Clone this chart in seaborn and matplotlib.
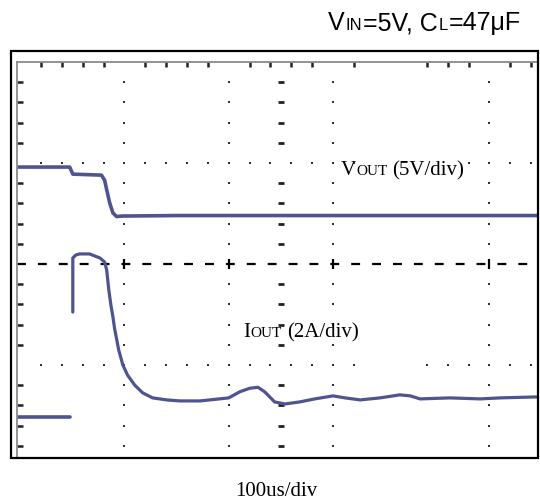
import numpy as np
import pandas as pd
import matplotlib
matplotlib.use('Agg')
import matplotlib.pyplot as plt
from matplotlib.patches import Rectangle
import seaborn as sns

# scope screen in divisions: x in us (100us/div), y in divisions
vout_t = [-507, -405, -399, -344, -338, -334, -328, -322, -315, -305, -200, 0, 493]
vout_v = [1.92, 1.92, 1.78, 1.76, 1.66, 1.47, 1.20, 1.01, 0.94, 0.95, 0.96, 0.96, 0.96]

iout_pre_t = [-507, -405]
iout_pre_v = [-3.03, -3.03]

iout_t = [-399, -399, -393, -386, -367, -347, -338, -334, -330, -326, -322, -319, -311,
          -303, -294, -280, -265, -246, -219, -194, -155, -100, -79, -60, -44, -31, -12,
          8, 36, 65, 100, 123, 152, 190, 228, 248, 267, 324, 382, 420, 493]
iout_v = [-0.95, 0.12, 0.18, 0.20, 0.20, 0.12, 0.04, -0.12, -0.51, -0.81, -1.05, -1.27, -1.70,
          -2.00, -2.20, -2.40, -2.55, -2.65, -2.69, -2.71, -2.71, -2.65, -2.53, -2.46, -2.44, -2.53, -2.73,
          -2.77, -2.73, -2.67, -2.61, -2.65, -2.69, -2.65, -2.59, -2.61, -2.67, -2.65, -2.67, -2.65, -2.63]

# graticule
grid_cols = [-300, -100, 100, 400]
minor_x_left = [-460, -420, -380, -340, -260, -220, -180, -140, -60, -20, 20, 60, 140]
minor_x_right = [280, 320, 360, 440, 480]
minor_y = [3.6, 3.2, 2.8, 2.4, 1.6, 1.2, 0.8, 0.4, -0.4, -0.8, -1.2, -1.6, -2.4, -2.8, -3.2, -3.6]
upper_row_x = minor_x_left + grid_cols[:3] + [360, 400, 440, 480]
lower_row_x = minor_x_left + grid_cols + minor_x_right

W, H = 540, 500
TRACE = '#4f5490'
sns.set_theme(style='white')


def px_box(l, t, r, b):
    return [l / W, 1 - b / H, (r - l) / W, (b - t) / H]


fig = plt.figure(figsize=(5.4, 5.0), dpi=100)
ax = fig.add_axes(px_box(17, 62, 538, 458))
ax.set_xlim(-506, 493)
ax.set_ylim(-3.84, 4.0)
ax.set_xticks([])
ax.set_yticks([])
for side in ['right', 'bottom']:
    ax.spines[side].set_visible(False)
for side in ['top', 'left']:
    ax.spines[side].set_color('#8a8a8a')
    ax.spines[side].set_linewidth(1.3)

# ticks along top and left edges
ax.vlines(minor_x_left + minor_x_right, 3.91, 4.0, color='#222222', lw=1.8)
ax.hlines(minor_y, -506, -494, color='#222222', lw=1.8)

# dotted columns and rows
dot_kw = dict(marker='s', s=3.5, color='#333333', linewidths=0, zorder=2)
for c in grid_cols:
    ax.scatter([c] * len(minor_y), minor_y, **dot_kw)
ax.scatter(upper_row_x, [2.0] * len(upper_row_x), **dot_kw)
ax.scatter(lower_row_x, [-2.0] * len(lower_row_x), **dot_kw)

# centre axes
ax.hlines(minor_y, -6, 6, color='#222222', lw=2)
ax.axhline(0, color='black', lw=1.6, dashes=(4.0, 5.4))
ax.vlines(grid_cols, -0.1, 0.1, color='black', lw=1.6)

# traces
sns.lineplot(x=vout_t, y=vout_v, ax=ax, color=TRACE, lw=2.6, sort=False, estimator=None)
sns.lineplot(x=iout_pre_t, y=iout_pre_v, ax=ax, color=TRACE, lw=2.6, sort=False, estimator=None)
sns.lineplot(x=iout_t, y=iout_v, ax=ax, color=TRACE, lw=2.3, sort=False, estimator=None)

# outer frame
fig.add_artist(Rectangle((11 / W, 1 - 458 / H), 527 / W, 407 / H, transform=fig.transFigure,
                         fill=False, ec='black', lw=1.6))

renderer = fig.canvas.get_renderer()


def put_text(x_px, y_px, parts, family, size, small):
    x = x_px
    for s, is_small, gap in parts:
        t = fig.text(x / W, 1 - y_px / H, s, family=family, fontsize=small if is_small else size,
                     va='baseline', ha='left', color='black')
        x += t.get_window_extent(renderer).width + gap


put_text(328, 30, [('V', False, 1), ('IN', True, 1), ('=5V, C', False, 1), ('L', True, 1), ('=47\u03bcF', False, 0)],
         'Liberation Sans', 18, 12)
put_text(341, 175, [('V', False, 0), ('OUT', True, 5), ('(5V/div)', False, 0)], 'Liberation Serif', 15, 11)
put_text(243, 337, [('I', False, 0.5), ('OUT', True, 5), ('(2A/div)', False, 0)], 'Liberation Serif', 15, 11)
fig.text(276 / W, 1 - 496 / H, '100us/div', family='Liberation Serif', fontsize=15,
         ha='center', va='baseline', color='black')

fig.savefig('out.png', dpi=100)
